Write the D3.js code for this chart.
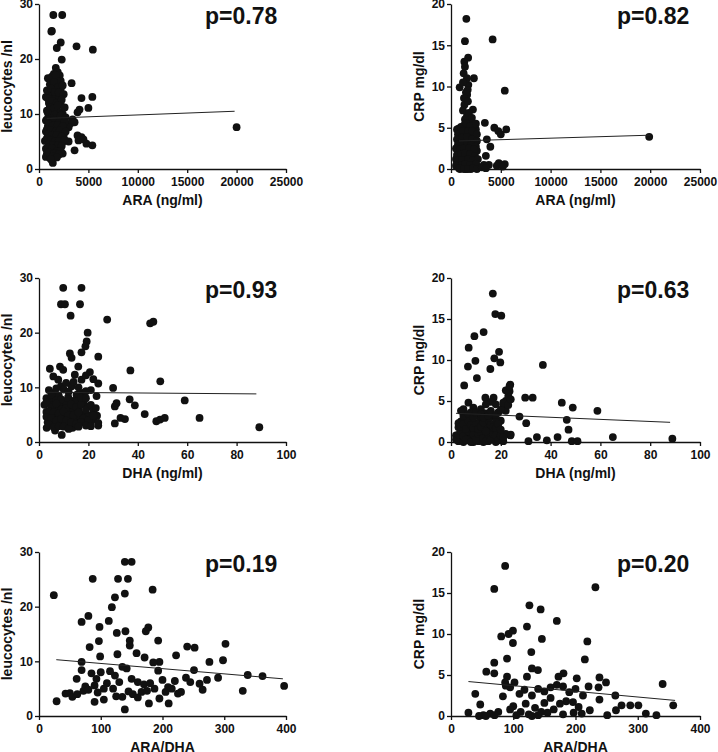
<!DOCTYPE html>
<html><head><meta charset="utf-8">
<script src="https://cdn.jsdelivr.net/npm/d3@7/dist/d3.min.js"></script>
<style>
body{margin:0;background:#fff;}
text{font-family:"Liberation Sans",Arial,sans-serif;fill:#111;}
</style></head>
<body><svg id="c" width="718" height="752"></svg>
<script>
// ---------- DATA ----------
const araLeuco = [[1450,28.0],[2350,28.0],[1300,25.1],[1250,25.0],[2200,23.0],[1800,22.0],[3800,22.3],[5450,21.7],[2300,19.9],
[1700,18.4],[1900,17.6],[1500,17.3],[2100,17.0],[1800,16.2],[2000,15.8],[3300,15.6],[1600,15.0],[2200,14.6],[1400,14.2],
[4300,12.9],[5400,13.1],[700,13.1],[1200,13.3],[1700,13.5],[2000,12.8],[1000,12.0],[1500,12.2],[2200,11.7],
[5000,11.1],[4100,10.8],[3900,10.3],[800,10.6],[1300,10.5],[1700,10.9],[2100,10.4],[2400,10.0],
[1000,9.5],[1400,9.8],[1900,9.4],[2300,9.1],[3400,9.0],[700,8.8],[1200,8.6],[1600,8.4],[2000,8.2],[3200,8.3],[3600,8.5],
[20000,7.6],[900,7.8],[1300,7.6],[1800,7.5],[2300,7.3],[3000,7.6],[700,6.8],[1100,6.9],[1500,6.6],[2000,6.4],[2500,6.2],
[3900,6.1],[4300,5.8],[1000,5.9],[1400,5.7],[1700,5.4],[2200,5.5],[600,5.1],[900,4.9],[1300,4.8],[1800,4.7],[2400,4.9],[3000,5.0],
[4000,5.2],[4500,5.4],[4800,4.6],[5400,4.3],[1100,4.3],[1600,4.1],[2100,4.0],[700,3.7],[1000,3.5],[1500,3.4],[2000,3.6],[3600,3.4],
[800,2.8],[1200,2.9],[1700,2.7],[2400,2.8],[700,2.2],[1100,2.0],[1300,1.6],[1400,1.1],
[900,16.5],[1300,16.8],[1700,17.0],[2200,16.0],[1100,15.4],[1500,15.8],[1900,14.9],[2400,15.2],
[800,14.3],[1200,14.6],[1600,14.0],[2000,13.9],[2500,13.6],[900,12.8],[1300,12.4],[1800,12.0],[2300,12.6],
[1100,11.3],[1500,11.0],[1900,11.6],[2600,11.2],[900,10.2],[1600,9.9],[2200,9.7],[2700,9.4],
[1200,9.2],[800,9.0],[1500,8.9],[2100,8.7],[2600,8.6],[1000,8.2],[1400,7.9],[1900,8.0],[2400,7.8],
[800,7.2],[1200,7.1],[1700,6.9],[2100,7.0],[2700,6.8],[900,6.3],[1300,6.1],[1800,6.2],[2300,5.9],
[800,5.6],[1200,5.3],[1600,5.0],[2000,5.1],[2600,5.3],[1000,4.5],[1400,4.4],[1900,4.3],[2300,4.2],
[900,3.9],[1300,3.8],[1800,3.2],[2200,3.3],[1000,3.0],[1500,2.8],[2000,2.6],[1400,2.3],[1800,2.1],[1200,1.8]];
const araCrp = [[1540,18.2],[1400,15.5],[4180,15.7],[1720,13.5],[1340,13.0],[1270,11.6],[2300,11.0],[870,9.9],[1740,10.2],[1680,9.6],[1620,9.0],[5400,9.5],
[1350,7.8],[2200,7.2],[1600,6.4],[1900,5.8],[3400,5.6],[770,4.9],[4350,5.0],[4750,4.6],[5000,4.2],[5550,4.8],[19900,3.9],
[3600,3.6],[3950,2.7],[3500,1.6],[3300,0.5],[3800,0.5],[4800,0.7],[5400,0.6],
[1300,5.3],[1700,5.0],[2200,5.4],[2500,4.8],[1100,4.5],[1500,4.3],[2000,4.1],[2400,3.9],[900,3.6],[1300,3.4],[1800,3.2],[2300,3.0],
[1000,2.8],[1500,2.6],[2000,2.4],[2600,2.2],[700,2.0],[1200,1.9],[1700,1.7],[2100,1.6],[800,1.4],[1400,1.2],[1900,1.1],[2500,1.0],
[600,0.9],[1000,0.8],[1600,0.6],[2200,0.5],[700,0.3],[1200,0.2],[1800,0.1],[2400,0.2],[900,0.0],[1500,0.0],[2000,0.0],[1300,4.0],[1900,3.7],[1100,2.3],[1600,1.5],[2300,4.5],[2700,0.3],[500,1.2],[600,0.5],
[1400,12.4],[1600,11.0],[1200,10.5],[1500,9.3],[1300,8.6],[1700,8.2],[1200,7.1],[1800,6.8],[1400,6.0],[2100,6.2],
[600,4.8],[1000,5.1],[1500,5.6],[1900,5.2],[2500,5.5],[700,4.2],[1200,4.6],[1700,4.6],[2100,4.6],[2600,4.2],
[600,3.6],[1100,3.8],[1600,3.9],[2100,3.6],[2600,3.4],[700,3.0],[1200,3.1],[1600,3.0],[2000,2.9],[2500,2.7],
[500,2.5],[900,2.4],[1300,2.5],[1800,2.5],[2300,2.4],[600,1.7],[1000,1.8],[1400,1.9],[1900,1.8],[2400,1.6],
[700,1.1],[1100,1.1],[1700,1.2],[2200,1.1],[2700,1.2],[500,0.4],[1100,0.5],[1400,0.6],[1900,0.5],[2500,0.6],
[800,0.1],[1300,0.0],[1700,0.0],[2200,0.1],[2600,0.0],[3100,0.2],[3500,0.1],[4600,0.4],[5200,0.3]];
const dhaLeuco = [[9.8,28.2],[17.2,28.2],[8.9,25.2],[10.5,25.2],[16.6,25.2],[12.8,23.1],[27.6,22.4],[45.0,21.7],[46.3,22.0],[19.7,20.0],
[19.3,18.4],[18.8,17.5],[17.2,16.4],[12.5,16.2],[13.2,15.4],[24.0,15.6],[4.4,13.4],[8.5,13.8],[9.8,13.2],[15.9,13.8],[20.6,12.8],[37.0,13.1],
[5.8,12.0],[7.8,11.4],[14.5,12.3],[17.2,11.4],[49.1,11.1],[24.0,10.7],[8.9,10.2],[13.2,10.2],[30.0,9.9],[17.9,9.0],[15.2,8.6],[11.8,8.2],
[23.3,8.4],[36.7,7.8],[59.0,7.6],[30.7,6.5],[31.4,7.1],[38.8,6.7],[5.8,8.0],[2.2,6.8],[42.8,5.1],[33.0,4.4],[34.8,4.2],[47.5,3.8],[49.0,4.1],[50.9,4.4],
[65.0,4.4],[89.2,2.7],[30.7,3.4],[24.0,3.0],[19.7,3.4],[13.6,2.6],[3.1,2.6],[6.5,2.1],[9.2,1.3],
[4,9.5],[6,9],[8,8.5],[10,9.6],[12,9.2],[14,7.5],[16,8.8],[18,7.2],[20,6.5],[22,5.5],[23.5,4.8],[4,7.5],[6,6.8],[8,6.2],[10,6.5],[12,5.8],[14,5.4],[16,6],[18,5.1],[20,4.8],[22,4.2],
[3,5.5],[5,5],[7,4.6],[9,4.8],[11,5.2],[13,4.5],[15,4.1],[17,4.4],[19,3.9],[21,3.6],[4,4.2],[6,3.8],[8,3.5],[10,3.9],[12,3.3],[14,3.7],[7,5.8],[9,6.8],[11,7.2],[13,6.2],[16,4.8],[5,3.0],[3.5,3.6],
[3,8.0],[5,8.6],[7,7.6],[9,7.8],[12,7.9],[15,7.4],[17,8.1],[19,8.0],
[3,7.2],[5,6.3],[7,7.0],[9,5.9],[11,6.2],[13,6.9],[15,6.4],[17,6.8],[19,5.9],[21,6.8],[23,6.2],
[4,5.7],[6,5.4],[8,5.2],[10,5.6],[12,4.9],[14,4.9],[16,5.4],[18,4.3],[20,4.0],[22,4.8],[24,3.5],
[3,4.6],[5,4.4],[7,3.9],[9,4.2],[11,3.9],[13,3.6],[15,3.3],[17,3.6],[19,3.0],[21,2.9],
[4,3.2],[6,2.7],[8,2.9],[10,2.8],[12,2.4],[16,2.8],[7,9.8],[11,10.8],[14,11.0],[16,10.0],[19,9.3],[21,9.5],[22,11.5],[19,12.2]];
const dhaCrp = [[16.8,18.1],[17.8,15.6],[20.2,15.4],[13.1,13.4],[9.4,12.9],[7.1,11.5],[19.3,11.0],[9.8,9.9],[17.4,10.2],[19.8,9.7],[36.9,9.4],[6.8,9.2],[15.8,8.9],
[10.4,7.8],[5.3,6.9],[23.8,7.0],[23.5,6.2],[13.8,5.4],[17.1,5.4],[29.8,5.4],[32.8,5.4],[44.5,4.8],[48.9,4.2],[58.8,3.8],[27.5,3.1],[46.5,2.7],[30.2,2.3],[47.2,1.5],
[23.8,0.8],[34.5,0.6],[42.8,0.6],[65.0,0.6],[88.9,0.4],[31.1,0.1],[38.5,0.2],[48.5,0.1],[50.8,0.1],
[7,4.8],[9,4.2],[12,4.0],[16,4.9],[18,4.6],[21,4.3],[22,5],[23,5.6],[5,4.0],[8,3.6],[11,3.2],[14,3.5],[17,3.1],[19,3.6],[20,2.6],
[4,2.5],[6,2.9],[9,2.4],[12,2.7],[15,2.0],[18,2.5],[22,3.8],[3,1.8],[5,1.5],[7,1.9],[10,1.4],[13,1.6],[16,1.2],[19,1.5],[22,1.0],
[2,0.8],[4,0.6],[6,1.0],[8,0.5],[10,0.7],[12,0.3],[14,0.6],[17,0.4],[20,0.2],[3,0.1],[5,0.0],[7,0.2],[9,0.0],[11,0.1],[13,0.0],[15,0.1],[18,0.0],[21,0.1],[6,2.0],[8,1.2],[11,2.1],[24,0.9],
[2,0.3],[3,0.9],[4,1.3],[5,0.7],[6,0.3],[7,1.3],[8,0.0],[9,0.9],[10,0.3],[11,1.0],[12,1.2],[13,0.5],[14,0.1],[15,0.9],[16,0.3],[17,1.0],[18,0.8],[19,0.2],[20,0.8],[21,0.6],
[3,2.3],[4,1.9],[5,2.2],[6,1.6],[7,2.6],[8,2.1],[9,1.7],[10,2.3],[11,1.6],[12,1.9],[13,2.4],[14,1.3],[15,2.7],[16,2.1],[17,1.8],[18,1.7],[19,2.2],[20,1.5],
[5,3.2],[7,3.4],[9,3.0],[10,3.6],[12,3.4],[13,3.0],[15,3.2],[16,3.8],[18,3.3],[20,3.9],[21,4.8],[23,4.5],[24,5.2],[22,6.3],[23.5,6.8],[14,4.6],[4,3.8]];
const ratioLeuco = [[24,22.1],[28.5,2.7],[69,17.2],[80,18.3],[87,25.1],[128,25.1],[144,25.1],[139,28.2],[150,28.2],[139,22.4],[123,21.7],[118,19.9],[113,17.4],[184,23.1],
[98,16.3],[177,16.2],[173,15.5],[140,15.5],[126,15.2],[82,12.6],[97,13.7],[147,13.8],[147,12.9],[193,13.8],[240,12.7],[252,12.5],[302,13.2],
[158,11.5],[222,11.1],[127,11.3],[99,10.9],[69,9.9],[171,10.7],[195,9.9],[298,10.2],[276,9.9],[69,8.4],[142,8.7],[251,8.4],[338,7.5],[362,7.3],
[290,7.0],[272,6.6],[238,7.0],[61,6.8],[123,7.4],[397,5.5],[330,4.6],[260,5.9],[265,4.8],[230,4.4],[209,5.3],[93,6.8],[90,2.6],[105,3.0],[139,1.2],
[178,2.3],[210,2.3],[187,5.0],[166,4.4],[152,4.0],[72,4.6],[50,4.2],[54,3.5],[43,4.1],
[85,7.8],[100,8.0],[110,6.0],[120,5.0],[130,6.2],[135,9.0],[90,5.6],[105,5.0],[115,8.2],[160,6.2],[170,5.8],[180,6.0],[185,9.8],[200,6.6],
[205,4.4],[215,5.0],[225,4.1],[145,4.5],[160,3.4],[175,4.6],[195,3.2],[75,5.4],[95,4.3],[125,3.6],[135,3.5],[62,4.0],[80,4.8],[150,6.8],[220,6.4],[245,6.2],[193,8.3]];
const ratioCrp = [[87,18.3],[69.5,15.5],[232,15.7],[126,13.5],[144,13.0],[170,11.6],[122,10.9],[99.5,10.4],[92.5,10.0],[80.7,9.7],[146,9.4],[219,9.1],[99.5,8.9],[129,7.8],
[215,6.9],[90,7.0],[69.5,6.5],[56.7,5.4],[69.5,5.2],[130,5.8],[139.6,5.6],[122,4.8],[90,4.8],[180.7,5.2],[172.7,4.8],[202,4.6],[238.5,4.7],[249,4.1],
[340,3.9],[87,4.1],[102,4.1],[39,2.7],[83.4,2.4],[47,1.4],[28,0.4],[237,3.5],[238.5,2.0],[221,3.6],[212,2.5],[357,1.3],[330,0.1],[313,0.3],[301,1.3],
[288,1.3],[274,1.3],[265,0.7],[264,2.5],[251,0.1],[223,0.7],[210,0.3],[197,0.4],[196,1.7],[52,0.1],[63,0.3],[76,0.5],[45,0.0],[56,0.0],[70,0.1],
[95,3.5],[110,2.7],[120,1.5],[130,2.5],[140,3.3],[150,3.0],[160,2.2],[170,3.8],[180,3.6],[185,1.8],[135,1.0],[150,1.6],[165,0.8],[175,1.5],[190,2.9],
[100,1.2],[112,0.5],[125,0.2],[140,0.1],[155,0.4],[180,0.2],[95,0.8],[105,0.1],[130,0.0],[145,0.5],[160,3.5],[118,3.2],[88,3.7],[200,3.3],[205,1.1]];

// regression line endpoints
const fitAraLeuco = [[780,9.2],[19800,10.5]];
const fitAraCrp = [[800,3.4],[20000,4.1]];
const fitDhaLeuco = [[3,9.1],[88,8.8]];
const fitDhaCrp = [[2,3.5],[88,2.4]];
const fitRatioLeuco = [[28,10.3],[395,6.8]];
const fitRatioCrp = [[28,4.2],[360,1.9]];

const xTicksAra = [0,5000,10000,15000,20000,25000];
const xTicksDha = [0,20,40,60,80,100];
const xTicksRatio = [0,100,200,300,400];
const yTicksLeuco = [0,10,20,30];
const yTicksCrp = [0,5,10,15,20];

const xTitles = ["ARA (ng/ml)","ARA (ng/ml)","DHA (ng/ml)","DHA (ng/ml)","ARA/DHA","ARA/DHA"];
const yTitles = ["leucocytes /nl","CRP mg/dl"];
const pValues = ["p=0.78","p=0.82","p=0.93","p=0.63","p=0.19","p=0.20"];

// ---------- DRAW ----------
const svg = d3.select("#c");
const cols = [[39,286],[451,700]];
const rows = [[4,169],[278,442],[552,716]];

const panels = [
  {d:araLeuco, f:fitAraLeuco, xt:xTicksAra, yt:yTicksLeuco},
  {d:araCrp, f:fitAraCrp, xt:xTicksAra, yt:yTicksCrp},
  {d:dhaLeuco, f:fitDhaLeuco, xt:xTicksDha, yt:yTicksLeuco},
  {d:dhaCrp, f:fitDhaCrp, xt:xTicksDha, yt:yTicksCrp},
  {d:ratioLeuco, f:fitRatioLeuco, xt:xTicksRatio, yt:yTicksLeuco},
  {d:ratioCrp, f:fitRatioCrp, xt:xTicksRatio, yt:yTicksCrp}
];

panels.forEach((p,i)=>{
  const c = cols[i%2], r = rows[Math.floor(i/2)];
  const x = d3.scaleLinear().domain([0, d3.max(p.xt)]).range(c);
  const y = d3.scaleLinear().domain([0, d3.max(p.yt)]).range([r[1], r[0]]);
  const g = svg.append("g");

  const xa = g.append("g").attr("transform",`translate(0,${r[1]})`)
    .call(d3.axisBottom(x).tickValues(p.xt).tickFormat(d3.format("d")).tickSize(4).tickPadding(4).tickSizeOuter(0));
  const ya = g.append("g").attr("transform",`translate(${c[0]},0)`)
    .call(d3.axisLeft(y).tickValues(p.yt).tickFormat(d3.format("d")).tickSize(4).tickPadding(2).tickSizeOuter(0));
  [xa,ya].forEach(a=>{
    a.select(".domain").attr("stroke","#111").attr("stroke-width",1.3);
    a.selectAll(".tick line").attr("stroke","#111").attr("stroke-width",1.3);
    a.selectAll("text").attr("font-size",12).attr("font-weight","bold")
      .attr("font-family","'Liberation Sans',Arial,sans-serif").attr("fill","#111");
  });

  g.selectAll("circle").data(p.d).enter().append("circle")
    .attr("cx",d=>x(d[0])).attr("cy",d=>y(d[1])).attr("r",3.9).attr("fill","#111");

  g.append("path").datum(p.f)
    .attr("d", d3.line().x(d=>x(d[0])).y(d=>y(d[1])))
    .attr("stroke","#222").attr("stroke-width",1).attr("fill","none");

  g.append("text").attr("x",(c[0]+c[1])/2).attr("y",r[1]+36)
    .attr("text-anchor","middle").attr("font-size",14).attr("font-weight","bold")
    .text(xTitles[i]);
  g.append("text").attr("transform",`translate(${c[0]-27},${(r[0]+r[1])/2}) rotate(-90)`)
    .attr("text-anchor","middle").attr("font-size",14).attr("font-weight","bold")
    .text(yTitles[i%2]);
  g.append("text").attr("x",c[0]+166).attr("y",r[0]+20)
    .attr("font-size",23).attr("font-weight","bold").text(pValues[i]);
});
</script></body></html>
